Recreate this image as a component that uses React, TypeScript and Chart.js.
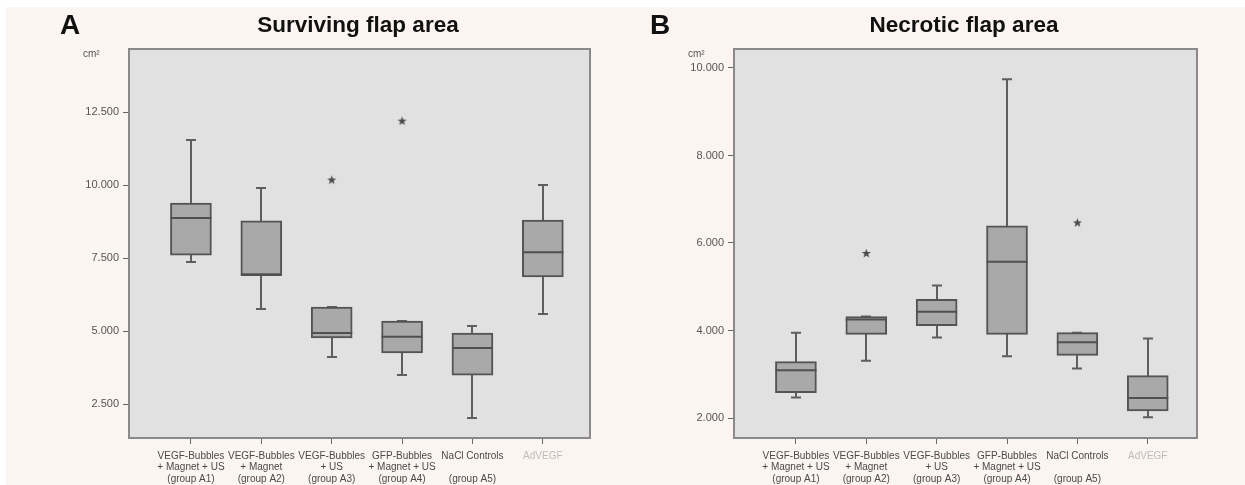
import React, { useEffect, useRef } from 'react';
import { Chart, registerables } from 'chart.js';

Chart.register(...registerables);

// ---------- data ----------
const categories: string[][] = [
  ['VEGF-Bubbles', '+ Magnet + US', '(group A1)'],
  ['VEGF-Bubbles', '+ Magnet', '(group A2)'],
  ['VEGF-Bubbles', '+ US', '(group A3)'],
  ['GFP-Bubbles', '+ Magnet + US', '(group A4)'],
  ['NaCl Controls', '', '(group A5)'],
  ['AdVEGF'],
];
const categoryLabelColors = ['#4a4a4a', '#4a4a4a', '#4a4a4a', '#4a4a4a', '#4a4a4a', '#bdbdbd'];

// Surviving flap area (cm²)
const survivingYTicks = [2500, 5000, 7500, 10000, 12500];
const survivingMin = [7360, 5750, 4110, 3490, 2020, 5580];
const survivingQ1 = [7600, 6920, 4760, 4250, 3490, 6850];
const survivingMedian = [8870, 6920, 4930, 4800, 4420, 7700];
const survivingQ3 = [9380, 8770, 5820, 5340, 4930, 8800];
const survivingMax = [11540, 9900, 5820, 5340, 5170, 10000];
const survivingOutlierGroups = [2, 3];
const survivingOutlierValues = [10170, 12190];

// Necrotic flap area (cm²)
const necroticYTicks = [2000, 4000, 6000, 8000, 10000];
const necroticMin = [2470, 3310, 3840, 3410, 3130, 2020];
const necroticQ1 = [2580, 3910, 4110, 3910, 3430, 2160];
const necroticMedian = [3090, 4250, 4430, 5570, 3730, 2460];
const necroticQ3 = [3290, 4320, 4710, 6390, 3950, 2970];
const necroticMax = [3950, 4320, 5030, 9740, 3950, 3820];
const necroticOutlierGroups = [1, 4];
const necroticOutlierValues = [5760, 6460];

// ---------- helpers ----------
const FONT = '"Liberation Sans", Arial, Helvetica, sans-serif';

function formatThousands(v: number): string {
  const th = Math.floor(v / 1000);
  const rest = Math.round(v % 1000);
  return th + '.' + String(rest).padStart(3, '0');
}

function makeStar(): HTMLCanvasElement {
  const c = document.createElement('canvas');
  c.width = 11;
  c.height = 11;
  const ctx = c.getContext('2d')!;
  ctx.fillStyle = '#4a4a4a';
  ctx.beginPath();
  for (let i = 0; i < 10; i++) {
    const r = i % 2 === 0 ? 4.8 : 2.0;
    const a = -Math.PI / 2 + (i * Math.PI) / 5;
    const x = 5.5 + r * Math.cos(a);
    const y = 5.5 + r * Math.sin(a);
    if (i === 0) ctx.moveTo(x, y);
    else ctx.lineTo(x, y);
  }
  ctx.closePath();
  ctx.fill();
  return c;
}

const boxExtras = {
  id: 'boxExtras',
  beforeDraw(chart: any) {
    const { ctx, chartArea: a } = chart;
    ctx.save();
    ctx.fillStyle = '#e1e1e1';
    ctx.fillRect(a.left, a.top, a.right - a.left, a.bottom - a.top);
    ctx.restore();
  },
  beforeDatasetsDraw(chart: any, _args: any, opts: any) {
    const { ctx } = chart;
    const y = chart.scales.y;
    const meta = chart.getDatasetMeta(0);
    ctx.save();
    ctx.strokeStyle = '#5e5e5e';
    ctx.lineWidth = 2;
    meta.data.forEach((bar: any, i: number) => {
      const cx = Math.round(bar.x);
      const yLo = y.getPixelForValue(opts.low[i]);
      const yHi = y.getPixelForValue(opts.high[i]);
      ctx.beginPath();
      ctx.moveTo(cx, yLo);
      ctx.lineTo(cx, yHi);
      ctx.moveTo(cx - 5, yLo);
      ctx.lineTo(cx + 5, yLo);
      ctx.moveTo(cx - 5, yHi);
      ctx.lineTo(cx + 5, yHi);
      ctx.stroke();
    });
    ctx.restore();
  },
  afterDatasetsDraw(chart: any, _args: any, opts: any) {
    const { ctx, chartArea: a } = chart;
    const y = chart.scales.y;
    const meta = chart.getDatasetMeta(0);
    ctx.save();
    ctx.strokeStyle = '#505050';
    ctx.lineWidth = 2;
    meta.data.forEach((bar: any, i: number) => {
      const ym = y.getPixelForValue(opts.median[i]);
      ctx.beginPath();
      ctx.moveTo(bar.x - bar.width / 2, ym);
      ctx.lineTo(bar.x + bar.width / 2, ym);
      ctx.stroke();
    });
    ctx.strokeStyle = '#8a8a8a';
    ctx.lineWidth = 2;
    ctx.strokeRect(a.left, a.top, a.right - a.left, a.bottom - a.top);
    ctx.restore();
  },
};

interface PanelCfg {
  yMin: number;
  yMax: number;
  yTicks: number[];
  xMin: number;
  xMax: number;
  yWidth: number;
  padRight: number;
  min: number[];
  q1: number[];
  median: number[];
  q3: number[];
  max: number[];
  outGroups: number[];
  outValues: number[];
}

function buildChart(canvas: HTMLCanvasElement, p: PanelCfg, star: HTMLCanvasElement) {
  return new Chart(canvas, {
    type: 'bar',
    data: {
      datasets: [
        {
          type: 'bar',
          data: categories.map((_, i) => ({ x: i, y: [p.q1[i], p.q3[i]] })) as any,
          backgroundColor: '#a9a9a9',
          borderColor: '#545454',
          borderWidth: 2,
          borderSkipped: false,
          barThickness: 41,
        } as any,
        {
          type: 'scatter',
          data: p.outGroups.map((g, i) => ({ x: g, y: p.outValues[i] })),
          pointStyle: star,
          pointRadius: 5,
        } as any,
      ],
    },
    options: {
      responsive: false,
      animation: false,
      events: [],
      layout: { padding: { left: 0, top: 49, right: p.padRight, bottom: 0 } },
      plugins: {
        legend: { display: false },
        tooltip: { enabled: false },
        boxExtras: { low: p.min, high: p.max, median: p.median },
      } as any,
      scales: {
        x: {
          type: 'linear',
          min: p.xMin,
          max: p.xMax,
          offset: false,
          afterBuildTicks: (s: any) => {
            s.ticks = categories.map((_, i) => ({ value: i }));
          },
          afterFit: (s: any) => {
            s.height = 47;
          },
          grid: {
            display: true,
            offset: false,
            drawOnChartArea: false,
            drawTicks: true,
            tickLength: 6,
            color: '#666666',
            lineWidth: 1,
          },
          border: { display: false },
          ticks: {
            autoSkip: false,
            maxRotation: 0,
            padding: 6,
            font: { family: FONT, size: 10, lineHeight: 1.15 },
            color: (ctx: any) => categoryLabelColors[ctx.index] ?? '#4a4a4a',
            callback: (v: any) => categories[Math.round(Number(v))] ?? '',
          },
        },
        y: {
          type: 'linear',
          min: p.yMin,
          max: p.yMax,
          afterBuildTicks: (s: any) => {
            s.ticks = p.yTicks.map((v) => ({ value: v }));
          },
          afterFit: (s: any) => {
            s.width = p.yWidth;
          },
          grid: {
            display: true,
            drawOnChartArea: false,
            drawTicks: true,
            tickLength: 6,
            color: '#666666',
            lineWidth: 1,
          },
          border: { display: false },
          ticks: {
            padding: 4,
            font: { family: FONT, size: 11 },
            color: '#555555',
            callback: (v: any) => formatThousands(Number(v)),
          },
        },
      },
    } as any,
    plugins: [boxExtras as any],
  });
}

const titleStyle: React.CSSProperties = {
  position: 'absolute',
  top: 14,
  fontFamily: FONT,
  fontWeight: 'bold',
  fontSize: 22.5,
  lineHeight: '22.5px',
  color: '#111',
  whiteSpace: 'nowrap',
  transform: 'translateX(-50%)',
};
const letterStyle: React.CSSProperties = {
  position: 'absolute',
  top: 11,
  fontFamily: FONT,
  fontWeight: 'bold',
  fontSize: 28,
  lineHeight: '28px',
  color: '#111',
};
const unitStyle: React.CSSProperties = {
  position: 'absolute',
  top: 49,
  fontFamily: FONT,
  fontSize: 10,
  lineHeight: '10px',
  color: '#555',
};

export default function App() {
  const refA = useRef<HTMLCanvasElement>(null);
  const refB = useRef<HTMLCanvasElement>(null);

  useEffect(() => {
    Chart.defaults.font.family = FONT;
    const star = makeStar();
    const a = buildChart(
      refA.current!,
      {
        yMin: 1336,
        yMax: 14658,
        yTicks: survivingYTicks,
        xMin: -0.88,
        xMax: 5.67,
        yWidth: 129,
        padRight: 32,
        min: survivingMin,
        q1: survivingQ1,
        median: survivingMedian,
        q3: survivingQ3,
        max: survivingMax,
        outGroups: survivingOutlierGroups,
        outValues: survivingOutlierValues,
      },
      star
    );
    const b = buildChart(
      refB.current!,
      {
        yMin: 1543,
        yMax: 10434,
        yTicks: necroticYTicks,
        xMin: -0.88,
        xMax: 5.7,
        yWidth: 112,
        padRight: 48,
        min: necroticMin,
        q1: necroticQ1,
        median: necroticMedian,
        q3: necroticQ3,
        max: necroticMax,
        outGroups: necroticOutlierGroups,
        outValues: necroticOutlierValues,
      },
      star
    );
    return () => {
      a.destroy();
      b.destroy();
    };
  }, []);

  return (
    <div
      style={{
        position: 'fixed',
        left: 0,
        top: 0,
        width: 1245,
        height: 485,
        background: '#ffffff',
        overflow: 'hidden',
      }}
    >
      <div
        style={{
          position: 'absolute',
          left: 6,
          top: 7,
          right: 0,
          bottom: 0,
          background: '#fcf4f1',
        }}
      />
      <canvas ref={refA} width={622} height={485} style={{ position: 'absolute', left: 0, top: 0 }} />
      <canvas ref={refB} width={623} height={485} style={{ position: 'absolute', left: 622, top: 0 }} />
      <div style={{ ...letterStyle, left: 60 }}>A</div>
      <div style={{ ...letterStyle, left: 650 }}>B</div>
      <div style={{ ...titleStyle, left: 358 }}>Surviving flap area</div>
      <div style={{ ...titleStyle, left: 964 }}>Necrotic flap area</div>
      <div style={{ ...unitStyle, left: 83 }}>cm²</div>
      <div style={{ ...unitStyle, left: 688 }}>cm²</div>
    </div>
  );
}
